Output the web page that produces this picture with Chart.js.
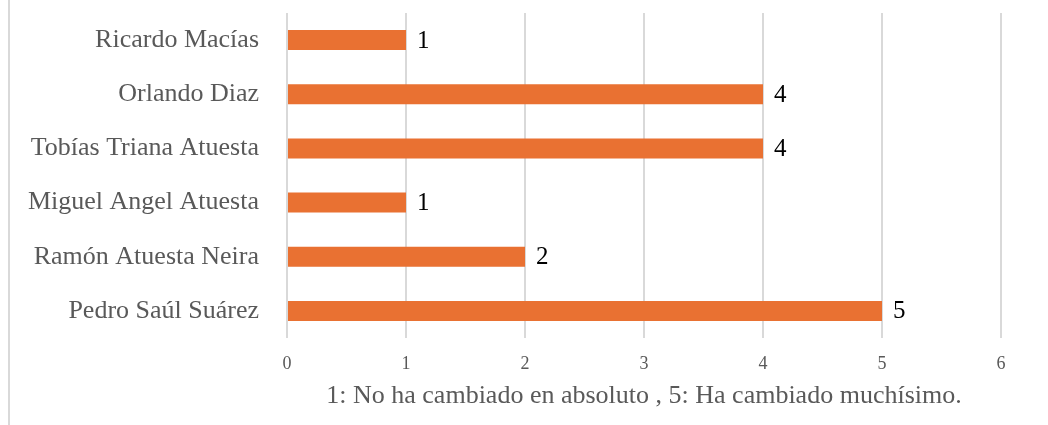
<!DOCTYPE html>
<html>
<head>
<meta charset="utf-8">
<script src="https://cdn.jsdelivr.net/npm/chart.js@4"></script>
<style>
  html, body { margin: 0; padding: 0; background: #fff; }
  #wrap { position: relative; width: 1048px; height: 425px; }
  #edge { position: absolute; left: 8px; top: 0; width: 2px; height: 425px; background: #d9d9d9; }
  canvas { position: absolute; left: 0; top: 0; }
</style>
</head>
<body>
<div id="wrap">
  <div id="edge"></div>
  <canvas id="chart" width="1048" height="425"></canvas>
</div>
<script>
const names = [
  'Ricardo Macías',
  'Orlando Diaz',
  'Tobías Triana Atuesta',
  'Miguel Angel Atuesta',
  'Ramón Atuesta Neira',
  'Pedro Saúl Suárez'
];
const scores = [1, 4, 4, 1, 2, 5];
const xTicks = [0, 1, 2, 3, 4, 5, 6];
const axisTitle = '1: No ha cambiado en absoluto , 5: Ha cambiado muchísimo.';

const serif = "'Liberation Serif', 'Times New Roman', serif";

// value labels at the end of each bar
const barLabels = {
  id: 'barLabels',
  afterDatasetsDraw(chart) {
    const ctx = chart.ctx;
    const meta = chart.getDatasetMeta(0);
    ctx.save();
    ctx.font = '25px ' + serif;
    ctx.fillStyle = '#000';
    ctx.textAlign = 'left';
    ctx.textBaseline = 'middle';
    meta.data.forEach((bar, i) => {
      ctx.fillText(String(scores[i]), bar.x + 11, bar.y + 1);
    });
    ctx.restore();
  }
};

new Chart(document.getElementById('chart'), {
  type: 'bar',
  data: {
    labels: names,
    datasets: [{
      data: scores,
      backgroundColor: '#E97132',
      borderWidth: 0,
      barPercentage: 0.37,
      categoryPercentage: 1
    }]
  },
  options: {
    indexAxis: 'y',
    responsive: false,
    animation: false,
    layout: {
      padding: { top: 13, right: 47, left: 0, bottom: 0 }
    },
    plugins: {
      legend: { display: false },
      tooltip: { enabled: false }
    },
    scales: {
      x: {
        min: 0,
        max: 6,
        afterBuildTicks: (s) => { s.ticks = xTicks.map(v => ({ value: v })); },
        afterFit: (s) => { s.height = 87; },
        grid: {
          color: '#d9d9d9',
          lineWidth: 2,
          drawTicks: false
        },
        border: { display: false },
        ticks: {
          padding: 15,
          color: '#595959',
          font: { family: serif, size: 18 }
        },
        title: {
          display: true,
          text: axisTitle,
          color: '#595959',
          font: { family: serif, size: 26 },
          padding: { top: 0, bottom: 13 }
        }
      },
      y: {
        afterFit: (s) => {
          s.width = 287;
          s.paddingTop = 0;
          s.paddingBottom = 0;
        },
        grid: { display: false, drawTicks: false },
        border: { display: false },
        ticks: {
          padding: 28,
          color: '#595959',
          font: { family: serif, size: 26 }
        }
      }
    }
  },
  plugins: [barLabels]
});
</script>
</body>
</html>
